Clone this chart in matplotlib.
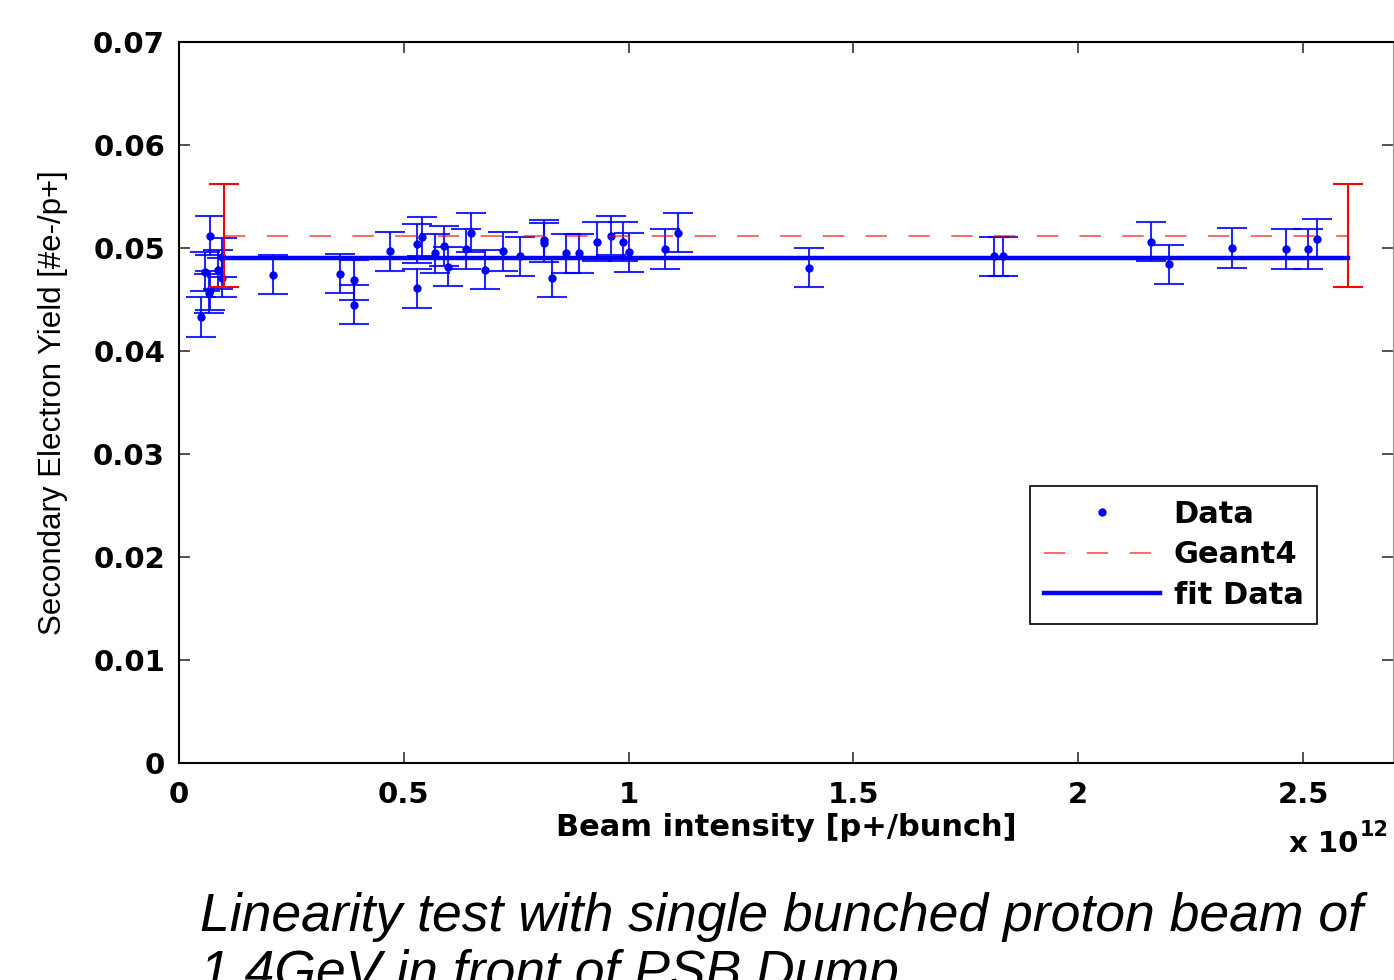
import numpy as np
import matplotlib.pyplot as plt

# Beam intensity in units of 1e12 p+/bunch, SEY and error
intensity = [0.048, 0.058, 0.066, 0.068, 0.070, 0.0875, 0.096, 0.096, 0.21, 0.358,
             0.389, 0.389, 0.469, 0.530, 0.530, 0.540, 0.5695, 0.5895, 0.599, 0.638,
             0.650, 0.680, 0.720, 0.759, 0.811, 0.811, 0.830, 0.860, 0.889, 0.929,
             0.960, 0.988, 1.001, 1.081, 1.110, 1.401, 1.812, 1.832, 2.162, 2.202,
             2.342, 2.463, 2.512, 2.532]
sey = [0.0433, 0.0477, 0.0456, 0.0512, 0.0459, 0.0479, 0.0491, 0.0471, 0.0474, 0.0475,
       0.0469, 0.0445, 0.0497, 0.0504, 0.0461, 0.0511, 0.0495, 0.0502, 0.0482, 0.0499,
       0.0515, 0.0479, 0.0497, 0.0492, 0.0508, 0.0505, 0.0471, 0.0495, 0.0495, 0.0506,
       0.0512, 0.0506, 0.0496, 0.0499, 0.0515, 0.0481, 0.0492, 0.0492, 0.0506, 0.0484,
       0.0500, 0.0499, 0.0499, 0.0509]
sey_err = [0.0019] * len(sey)

# Geant4 prediction and linear fit of the data
geant4_x = [0.1, 2.6]
geant4_y = [0.0512, 0.0512]
geant4_err = [0.005, 0.005]
fit_x = [0.1, 2.6]
fit_y = [0.049, 0.049]

yticks = [0, 0.01, 0.02, 0.03, 0.04, 0.05, 0.06, 0.07]
ytick_labels = ['0', '0.01', '0.02', '0.03', '0.04', '0.05', '0.06', '0.07']
xticks = [0, 0.5, 1, 1.5, 2, 2.5]
xtick_labels = ['0', '0.5', '1', '1.5', '2', '2.5']

W, H = 1394, 980
fig = plt.figure(figsize=(W / 100, H / 100), dpi=100)
ax = fig.add_axes([179 / W, 1 - 763 / H, (1393 - 179) / W, (763 - 42) / H])

ax.errorbar(intensity, sey, yerr=sey_err, fmt='none', ecolor='#0000ff',
            elinewidth=1.5, capsize=11, capthick=1.5, alpha=0.85)
ax.plot(intensity, sey, '.', color='#0000ff', markersize=10, label='Data')
ax.plot(geant4_x, geant4_y, color='#ff0000', lw=1.1, linestyle=(0, (14, 14)),
        alpha=0.75, label='Geant4')
ax.errorbar(geant4_x, geant4_y, yerr=geant4_err, fmt='none', ecolor='#ff0000',
            elinewidth=1.5, capsize=11, capthick=1.5)
ax.plot(fit_x, fit_y, color='#0000ff', lw=3.2, label='fit Data')

ax.set_xlim(0, 2.7)
ax.set_ylim(0, 0.07)
ax.set_xticks(xticks)
ax.set_xticklabels(xtick_labels)
ax.set_yticks(yticks)
ax.set_yticklabels(ytick_labels)
ax.tick_params(direction='in', length=8, width=1.2, color='#333333',
               top=True, right=True, labelsize=21, pad=10)
ax.tick_params(axis='x', pad=13)
for lbl in ax.get_xticklabels() + ax.get_yticklabels():
    lbl.set_fontweight('bold')
for side in ['left', 'bottom', 'top']:
    ax.spines[side].set_linewidth(1.5)
ax.spines['right'].set_color('#999999')

ax.set_xlabel('Beam intensity [p+/bunch]', fontsize=22, fontweight='bold', labelpad=3)
ax.set_ylabel('Secondary Electron Yield [#e-/p+]', fontsize=22.5,
              family='Liberation Sans', labelpad=18)

fig.text(1358 / W, 1 - 852 / H, 'x 10', fontsize=21, fontweight='bold',
         ha='right', va='baseline')
fig.text(1360 / W, 1 - 836 / H, '12', fontsize=15, fontweight='bold',
         ha='left', va='baseline')

leg = ax.legend(loc='upper left', bbox_to_anchor=(0.701, 0.384), borderaxespad=0,
                prop={'weight': 'bold', 'size': 22}, handlelength=3.8,
                handletextpad=0.45, labelspacing=0.38, borderpad=0.45,
                fancybox=False, edgecolor='black', framealpha=1)
leg.get_frame().set_linewidth(1.2)

fig.text(200 / W, 1 - 931 / H, 'Linearity test with single bunched proton beam of',
         fontsize=38.5, style='italic', family='Liberation Sans', va='baseline')
fig.text(200 / W, 1 - 988 / H, '1.4GeV in front of PSB Dump',
         fontsize=38.5, style='italic', family='Liberation Sans', va='baseline')

fig.savefig('out.png', dpi=100)
